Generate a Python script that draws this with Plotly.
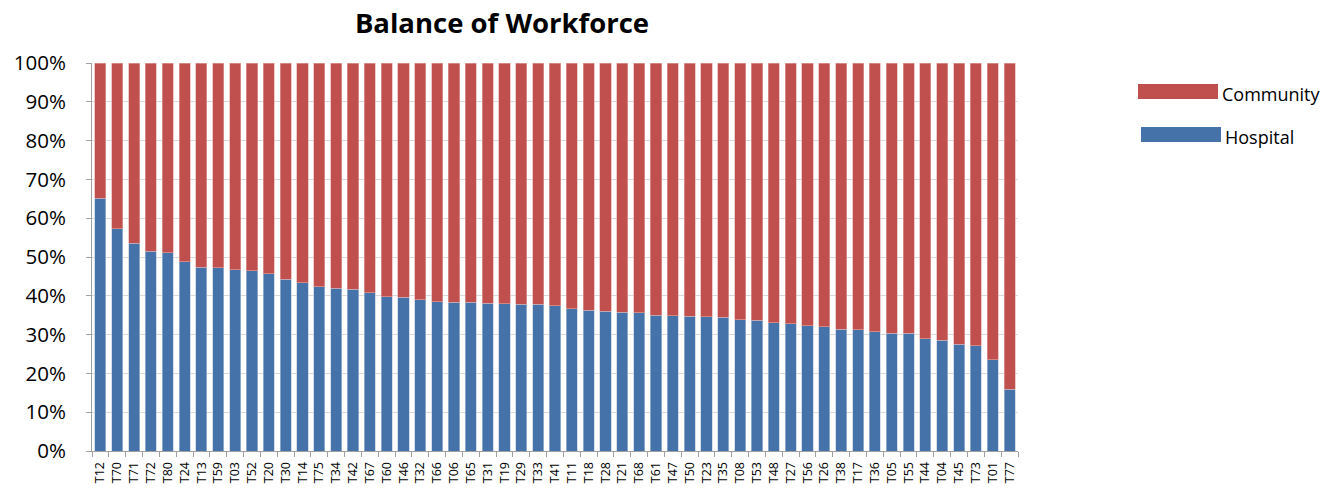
import plotly.graph_objects as go

# Site codes ordered by hospital share
sites = ["T12", "T70", "T71", "T72", "T80", "T24", "T13", "T59", "T03", "T52",
         "T20", "T30", "T14", "T75", "T34", "T42", "T67", "T60", "T46", "T32",
         "T66", "T06", "T65", "T31", "T19", "T29", "T33", "T41", "T11", "T18",
         "T28", "T21", "T68", "T61", "T47", "T50", "T23", "T35", "T08", "T53",
         "T48", "T27", "T56", "T26", "T38", "T17", "T36", "T05", "T55", "T44",
         "T04", "T45", "T73", "T01", "T77"]

# Hospital share of workforce (%)
hospital = [65.1, 57.3, 53.5, 51.5, 51.1, 48.8, 47.3, 47.2, 46.7, 46.5,
            45.7, 44.3, 43.4, 42.3, 41.9, 41.7, 40.8, 39.7, 39.6, 39.0,
            38.5, 38.3, 38.3, 38.1, 38.0, 37.8, 37.8, 37.5, 36.6, 36.3,
            36.0, 35.8, 35.6, 35.0, 34.9, 34.7, 34.6, 34.5, 33.8, 33.7,
            33.0, 32.8, 32.3, 32.0, 31.4, 31.3, 30.8, 30.3, 30.3, 28.9,
            28.5, 27.5, 27.1, 23.5, 15.9]

# Community share of workforce (%)
community = [34.9, 42.7, 46.5, 48.5, 48.9, 51.2, 52.7, 52.8, 53.3, 53.5,
             54.3, 55.7, 56.6, 57.7, 58.1, 58.3, 59.2, 60.3, 60.4, 61.0,
             61.5, 61.7, 61.7, 61.9, 62.0, 62.2, 62.2, 62.5, 63.4, 63.7,
             64.0, 64.2, 64.4, 65.0, 65.1, 65.3, 65.4, 65.5, 66.2, 66.3,
             67.0, 67.2, 67.7, 68.0, 68.6, 68.7, 69.2, 69.7, 69.7, 71.1,
             71.5, 72.5, 72.9, 76.5, 84.1]

y_ticks = [0, 10, 20, 30, 40, 50, 60, 70, 80, 90, 100]
y_tick_text = [f"{v}%" for v in y_ticks]

BLUE = "#4573A9"
RED = "#C0504D"
FONT = "'Open Sans', Lato, sans-serif"

fig = go.Figure()
fig.add_trace(go.Bar(x=sites, y=hospital, name="Hospital",
                     marker=dict(color=BLUE, line=dict(color="#B7C9DE", width=0.6))))
fig.add_trace(go.Bar(x=sites, y=community, name="Community",
                     marker=dict(color=RED, line=dict(color="#E2A8A6", width=0.6))))

fig.update_layout(
    barmode="stack",
    bargap=0.34,
    width=1341, height=492,
    margin=dict(l=92, r=323, t=63, b=41),
    paper_bgcolor="white", plot_bgcolor="white",
    showlegend=False,
    font=dict(family=FONT, color="#000000"),
    title=dict(text="<b>Balance of Workforce</b>", x=502 / 1341, xanchor="center",
               y=1 - 23 / 492, yanchor="middle", font=dict(size=27.5, family=FONT)),
)

fig.update_xaxes(
    type="category", tickangle=-90, tickfont=dict(size=12.5, family=FONT),
    ticks="outside", tickson="boundaries", ticklen=5, tickcolor="#A0A0A0",
    ticklabelstandoff=5, automargin=False,
    showline=True, linecolor="#A0A0A0", linewidth=1, showgrid=False,
)
fig.update_yaxes(
    range=[0, 100], tickvals=y_ticks, ticktext=y_tick_text,
    tickfont=dict(size=20.5, family=FONT),
    ticks="outside", ticklen=5, tickcolor="#A0A0A0",
    ticklabelstandoff=16, automargin=False,
    showline=True, linecolor="#A0A0A0", linewidth=1,
    showgrid=True, gridcolor="#D9D9D9", gridwidth=1, zeroline=False,
)

# Legend drawn as wide swatches beside the plot
legend_items = [("Community", RED, 92, 1138), ("Hospital", BLUE, 135, 1141)]
for label, color, ypx, xpx in legend_items:
    fig.add_shape(type="rect", xref="paper", yref="paper",
                  x0=(xpx - 92) / 926, x1=(xpx + 80 - 92) / 926,
                  y0=(451 - (ypx + 7)) / 388, y1=(451 - (ypx - 8)) / 388,
                  fillcolor=color, line=dict(width=0))
    fig.add_annotation(text=label, xref="paper", yref="paper",
                       x=(xpx + 82 - 92) / 926, y=(451 - (ypx + 2)) / 388,
                       xanchor="left", yanchor="middle", showarrow=False,
                       font=dict(size=18, family=FONT, color="#000000"))

fig.write_html("out.html")
